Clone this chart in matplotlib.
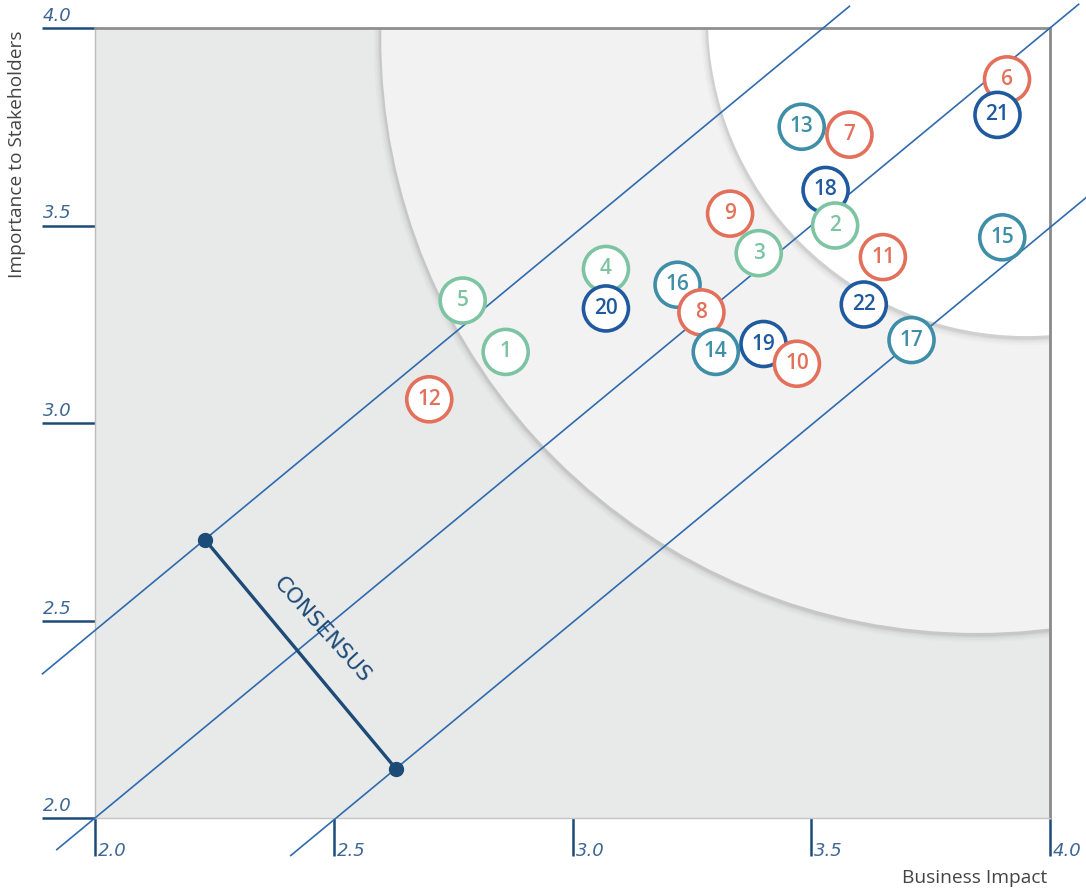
import matplotlib.pyplot as plt
from matplotlib.patches import Ellipse
import matplotlib.transforms as mtransforms

# topic bubbles: id, business impact (x), importance to stakeholders (y)
ids = [6, 21, 13, 7, 18, 2, 9, 3, 11, 15, 22, 17,
       16, 8, 14, 19, 10, 4, 20, 5, 1, 12]
impact = [3.91, 3.89, 3.48, 3.58, 3.53, 3.55, 3.33, 3.39, 3.65, 3.90, 3.61, 3.71,
          3.22, 3.27, 3.30, 3.40, 3.47, 3.07, 3.07, 2.77, 2.86, 2.70]
importance = [3.87, 3.78, 3.75, 3.73, 3.59, 3.50, 3.53, 3.43, 3.42, 3.47, 3.30, 3.21,
              3.35, 3.28, 3.18, 3.20, 3.15, 3.39, 3.29, 3.31, 3.18, 3.06]
groups = ["orange", "navy", "teal", "orange", "navy", "green", "orange", "green", "orange", "teal", "navy", "teal",
          "teal", "orange", "teal", "navy", "orange", "green", "navy", "green", "green", "orange"]

x_ticks = [2.0, 2.5, 3.0, 3.5, 4.0]
y_ticks = [2.0, 2.5, 3.0, 3.5, 4.0]

# diagonal consensus bands y = x + c, with the x span each one is drawn over
band_offsets = [0.475, 0.0, -0.505]
band_x_ranges = [(1.89, 3.58), (1.92, 4.06), (2.41, 4.075)]

consensus_x = [2.23, 2.63]
consensus_y = [2.705, 2.125]

# materiality zones (centre x, centre y, width, height)
outer_zone = (3.847, 3.975, 2.495, 3.013)
inner_zone = (3.950, 4.025, 1.333, 1.610)

palette = {"orange": "#e3705a", "navy": "#1f5a9e", "teal": "#3f8ea8", "green": "#7cc4a2"}
line_blue = "#2f6bb0"
dark_navy = "#1d4b78"
tick_blue = "#3d6794"

plt.rcParams["font.family"] = ["Open Sans", "DejaVu Sans"]

fig = plt.figure(figsize=(10.86, 8.92), dpi=100)
ax = fig.add_axes([95 / 1086, 74 / 892, 955 / 1086, 790 / 892])
ax.set_xlim(2.0, 4.0)
ax.set_ylim(2.0, 4.0)
ax.set_facecolor("#e8e9e9")

px_x = 2.0 / 955
px_y = 2.0 / 790


def add_zone(zone, color, z):
    cx, cy, w, h = zone
    # soft drop shadow round the arc
    for k, a in [(7, 0.03), (5, 0.04), (3, 0.06), (1.5, 0.10)]:
        sh = Ellipse((cx - 0.5 * px_x, cy - 2 * px_y), w + 2 * k * px_x, h + 2 * k * px_y,
                     facecolor="#555555", edgecolor="none", alpha=a, zorder=z)
        ax.add_patch(sh)
    ax.add_patch(Ellipse((cx, cy), w, h, facecolor=color, edgecolor="none", zorder=z + 0.1))


add_zone(outer_zone, "#f2f2f2", 1.0)
add_zone(inner_zone, "#ffffff", 1.5)

for c, (x0, x1) in zip(band_offsets, band_x_ranges):
    ax.plot([x0, x1], [x0 + c, x1 + c], color=line_blue, lw=1.2, clip_on=False, zorder=3)

ax.plot(consensus_x, consensus_y, color=dark_navy, lw=2.4, marker="o", markersize=10,
        clip_on=False, zorder=4)
ax.text(sum(consensus_x) / 2 + 0.045, sum(consensus_y) / 2 + 0.06, "CONSENSUS", rotation=-48,
        rotation_mode="anchor", ha="center", va="center", fontsize=15.5, family="DejaVu Sans",
        color=dark_navy, zorder=4)

cols = [palette[g] for g in groups]
ax.scatter(impact, importance, s=1050, facecolor="white", edgecolors=cols, linewidths=2.6, zorder=5)
for i, x, y, c in zip(ids, impact, importance, cols):
    ax.text(x, y, str(i), ha="center", va="center", fontsize=15, fontweight="semibold", color=c, zorder=6)

# ticks drawn as long outward strokes, labels placed by hand
ax.set_xticks(x_ticks)
ax.set_yticks(y_ticks)
ax.tick_params(axis="x", direction="out", length=27, width=1.8, color=dark_navy, labelbottom=False)
ax.tick_params(axis="y", direction="out", length=38, width=1.8, color=dark_navy, labelleft=False)

tx = mtransforms.blended_transform_factory(ax.transData, ax.transAxes)
for t in x_ticks:
    ax.text(t + 3 * px_x, -0.053, f"{t:.1f}", transform=tx, ha="left", va="bottom",
            fontsize=13, style="italic", family="DejaVu Sans", color=tick_blue)
ty = mtransforms.blended_transform_factory(ax.transAxes, ax.transData)
for t in y_ticks:
    ax.text(-0.055, t + 3 * px_y, f"{t:.1f}", transform=ty, ha="left", va="bottom",
            fontsize=13, style="italic", family="DejaVu Sans", color=tick_blue)

for side, col, w in [("top", "#8f8f8f", 2.0), ("right", "#8a8a8a", 2.0),
                     ("left", "#bcbcbc", 1.0), ("bottom", "#c4c4c4", 1.0)]:
    ax.spines[side].set_color(col)
    ax.spines[side].set_linewidth(w)

fig.text(17 / 1086, 1 - 30 / 892, "Importance to Stakeholders", rotation=90, ha="center", va="top",
         fontsize=13.8, color="#444444")
fig.text(1047 / 1086, 1 - 878 / 892, "Business Impact", ha="right", va="center",
         fontsize=13.8, color="#444444")

fig.savefig("out.png", dpi=100, facecolor="white")
